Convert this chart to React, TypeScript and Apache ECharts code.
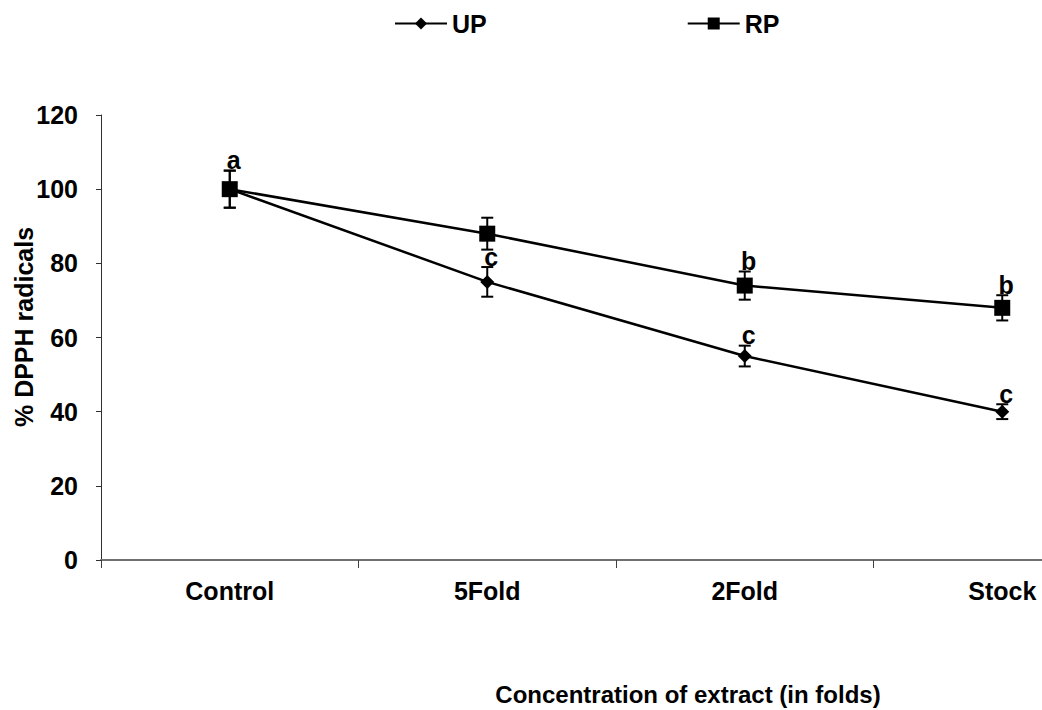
import React, { useEffect, useRef } from "react";
import * as echarts from "echarts";

const categories = ["Control", "5Fold", "2Fold", "Stock"];
const upValues = [100, 75, 55, 40];
const rpValues = [100, 88, 74, 68];
const upErrors = [5, 4, 2.8, 2];
const rpErrors = [5, 4.3, 3.8, 3.4];
const upLetters = ["", "c", "c", "c"];
const rpLetters = ["a", "", "b", "b"];
const yTicks = { min: 0, max: 120, interval: 20 };

const FONT = "'Liberation Sans', Arial, sans-serif";

function errorSeries(name: string, values: number[], errors: number[], letters: string[]) {
  return {
    name,
    type: "custom",
    z: 1,
    silent: true,
    data: values.map((v, i) => [i, v, errors[i], i]),
    renderItem: (params: any, api: any) => {
      const x = api.value(0);
      const y = api.value(1);
      const e = api.value(2);
      const idx = api.value(3);
      const top = api.coord([x, y + e]);
      const bot = api.coord([x, y - e]);
      const hw = 6;
      const style = { stroke: "#000", lineWidth: 2 };
      const children: any[] = [
        { type: "line", shape: { x1: top[0], y1: top[1], x2: bot[0], y2: bot[1] }, style },
        { type: "line", shape: { x1: top[0] - hw, y1: top[1], x2: top[0] + hw, y2: top[1] }, style },
        { type: "line", shape: { x1: bot[0] - hw, y1: bot[1], x2: bot[0] + hw, y2: bot[1] }, style },
      ];
      const letter = letters[idx];
      if (letter) {
        children.push({
          type: "text",
          x: top[0] + 4,
          y: top[1] + 2,
          style: {
            text: letter,
            fill: "#000",
            font: `bold 25px ${FONT}`,
            align: "center",
            verticalAlign: "bottom",
          },
        });
      }
      return { type: "group", children };
    },
  };
}

export default function App() {
  const ref = useRef<HTMLDivElement>(null);
  useEffect(() => {
    if (!ref.current) return;
    const chart = echarts.init(ref.current, null, { renderer: "svg" });
    chart.setOption({
      animation: false,
      backgroundColor: "#fff",
      textStyle: { fontFamily: FONT },
      grid: { left: 101, top: 115, bottom: 150, right: 0, containLabel: false },
      legend: {
        data: ["UP", "RP"],
        left: 389,
        top: 6,
        itemWidth: 52,
        itemHeight: 15,
        itemGap: 200,
        textStyle: { fontSize: 25, fontWeight: "bold", color: "#000", fontFamily: FONT },
      },
      xAxis: {
        type: "category",
        data: categories,
        boundaryGap: true,
        axisLine: { lineStyle: { color: "#707070", width: 2 } },
        axisTick: { show: true, length: 8, lineStyle: { color: "#404040", width: 1 } },
        axisLabel: { margin: 18, fontSize: 25, fontWeight: "bold", color: "#000", fontFamily: FONT },
        splitLine: { show: false },
      },
      yAxis: {
        type: "value",
        min: yTicks.min,
        max: yTicks.max,
        interval: yTicks.interval,
        axisLine: { show: true, lineStyle: { color: "#303030", width: 1 } },
        axisTick: { show: true, length: 5, lineStyle: { color: "#303030", width: 1 } },
        axisLabel: { margin: 23, fontSize: 25, fontWeight: "bold", color: "#000", fontFamily: FONT },
        splitLine: { show: false },
      },
      graphic: [
        {
          type: "text",
          x: 24,
          y: 327,
          rotation: Math.PI / 2,
          style: {
            text: "% DPPH radicals",
            fill: "#000",
            font: `bold 25px ${FONT}`,
            align: "center",
            verticalAlign: "middle",
          },
        },
        {
          type: "text",
          x: 688,
          y: 694,
          style: {
            text: "Concentration of extract (in folds)",
            fill: "#000",
            font: `bold 24px ${FONT}`,
            align: "center",
            verticalAlign: "middle",
          },
        },
      ],
      series: [
        errorSeries("UP_err", upValues, upErrors, upLetters),
        errorSeries("RP_err", rpValues, rpErrors, rpLetters),
        {
          name: "UP",
          type: "line",
          z: 3,
          data: upValues,
          symbol: "diamond",
          symbolSize: 14,
          lineStyle: { color: "#000", width: 2.5 },
          itemStyle: { color: "#000" },
        },
        {
          name: "RP",
          type: "line",
          z: 3,
          data: rpValues,
          symbol: "rect",
          symbolSize: 16,
          lineStyle: { color: "#000", width: 2.5 },
          itemStyle: { color: "#000" },
        },
      ],
    });
    return () => chart.dispose();
  }, []);
  return (
    <div style={{ position: "fixed", left: 0, top: 0, width: 1042, height: 710, overflow: "hidden" }}>
      <div ref={ref} style={{ width: 1131, height: 710 }} />
    </div>
  );
}
